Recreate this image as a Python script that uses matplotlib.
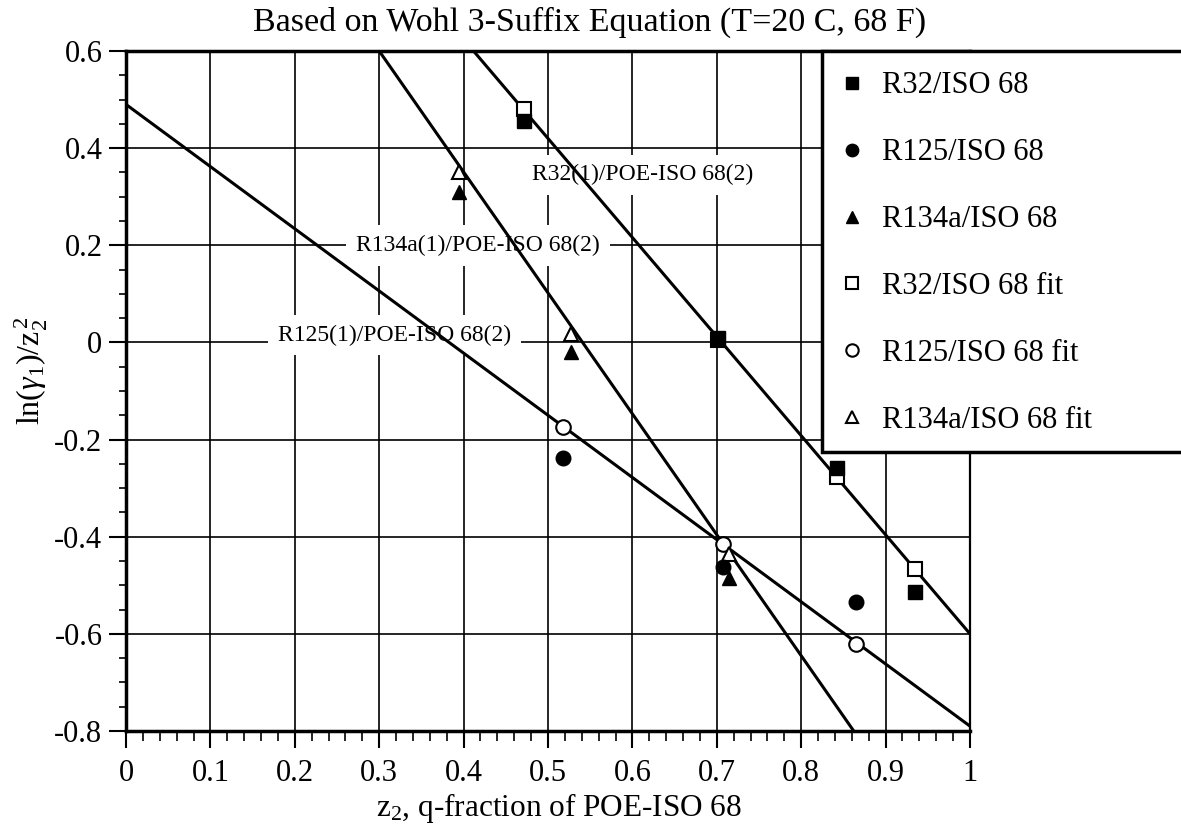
import matplotlib
matplotlib.use("Agg")
import matplotlib.pyplot as plt
from matplotlib.ticker import MultipleLocator, FuncFormatter
from matplotlib.patches import Rectangle

plt.rcParams['font.family'] = ['Liberation Serif', 'DejaVu Serif']
plt.rcParams['mathtext.fontset'] = 'custom'
plt.rcParams['mathtext.rm'] = 'Liberation Serif'
plt.rcParams['mathtext.it'] = 'Liberation Serif:italic'
plt.rcParams['axes.unicode_minus'] = False

# q-fraction of oil (z2) and ln(gamma1)/z2^2, experiment and Wohl fit
r32_z = [0.472, 0.702, 0.843, 0.935]
r32_exp = [0.455, 0.010, -0.258, -0.513]
r32_fit = [0.480, 0.005, -0.278, -0.466]

r125_z = [0.518, 0.707, 0.865]
r125_exp = [-0.237, -0.463, -0.535]
r125_fit = [-0.175, -0.414, -0.621]

r134a_z = [0.395, 0.527, 0.714]
r134a_exp = [0.310, -0.020, -0.484]
r134a_fit = [0.351, 0.017, -0.435]

# straight-line fits, end values at z2 = 0 and z2 = 1
line_z = [0.0, 1.0]
r32_line = [1.440, -0.600]
r125_line = [0.490, -0.790]
r134a_line = [1.347, -1.143]

line_labels = ["R32(1)/POE-ISO 68(2)", "R134a(1)/POE-ISO 68(2)", "R125(1)/POE-ISO 68(2)"]
label_pos = [(0.612, 0.345), (0.417, 0.200), (0.318, 0.015)]

W, H = 1181, 834
fig = plt.figure(figsize=(W / 100, H / 100), dpi=100)
ax = fig.add_axes([126 / W, 1 - 731 / H, (970 - 126) / W, (731 - 51) / H])

ax.set_xlim(0, 1)
ax.set_ylim(-0.8, 0.6)
ax.xaxis.set_major_locator(MultipleLocator(0.1))
ax.xaxis.set_minor_locator(MultipleLocator(0.02))
ax.yaxis.set_major_locator(MultipleLocator(0.2))
ax.yaxis.set_minor_locator(MultipleLocator(0.05))
fmt = FuncFormatter(lambda v, p: "%g" % round(v, 6))
ax.xaxis.set_major_formatter(fmt)
ax.yaxis.set_major_formatter(fmt)
ax.tick_params(which='major', direction='out', length=12, width=1.5,
               labelsize=22, colors='black')
ax.tick_params(axis='x', which='major', pad=8)
ax.tick_params(axis='y', which='major', pad=5)
ax.tick_params(axis='x', which='minor', direction='out', length=7, width=1.2)
ax.tick_params(axis='y', which='minor', direction='out', length=5, width=1.2)
ax.grid(True, which='major', color='black', lw=1.2)
ax.set_axisbelow(True)
for side in ('left', 'bottom', 'top'):
    ax.spines[side].set_linewidth(2.5)
ax.spines['right'].set_linewidth(1.6)

# fit lines
for ys in (r32_line, r125_line, r134a_line):
    ax.plot(line_z, ys, color='black', lw=2.2, zorder=3)

# line labels on white boxes
for txt, (x, y) in zip(line_labels, label_pos):
    ax.text(x, y, txt, ha='center', va='center', fontsize=17, zorder=2,
            bbox=dict(facecolor='white', edgecolor='none', pad=7))

ms = 10.5
ax.plot(r32_z, r32_exp, 's', color='black', ms=ms, zorder=5, label='R32/ISO 68')
ax.plot(r125_z, r125_exp, 'o', color='black', ms=ms, zorder=5, label='R125/ISO 68')
ax.plot(r134a_z, r134a_exp, '^', color='black', ms=ms, zorder=5, label='R134a/ISO 68')
ax.plot(r32_z, r32_fit, 's', mfc='white', mec='black', mew=1.5, ms=ms, zorder=4,
        label='R32/ISO 68 fit')
ax.plot(r125_z, r125_fit, 'o', mfc='white', mec='black', mew=1.5, ms=ms, zorder=4,
        label='R125/ISO 68 fit')
ax.plot(r134a_z, r134a_fit, '^', mfc='white', mec='black', mew=1.5, ms=ms, zorder=4,
        label='R134a/ISO 68 fit')

ax.set_xlabel(r'z$_2$, q-fraction of POE-ISO 68', fontsize=22.5)
ax.xaxis.set_label_coords(0.513, -0.088)
ax.set_ylabel(r'ln($\gamma_1$)/z$_2^{\,2}$', fontsize=23)
ax.yaxis.set_label_coords(-0.09, 0.53)

fig.text(590 / W, 1 - 22 / H, 'Based on Wohl 3-Suffix Equation (T=20 C, 68 F)',
         ha='center', va='center', fontsize=24.5)

# legend panel
frame = Rectangle((822 / W, 1 - 452 / H), 0.5, (452 - 51) / H,
                  transform=fig.transFigure, facecolor='white',
                  edgecolor='black', lw=2.5, zorder=6, clip_on=False)
fig.add_artist(frame)
handles, labels = ax.get_legend_handles_labels()
leg = fig.legend(handles, labels, loc='upper left',
                 bbox_to_anchor=(812 / W, 1 - 47 / H), frameon=False,
                 fontsize=22, handlelength=1.0, handletextpad=0.5,
                 labelspacing=1.24, borderpad=0.3, markerscale=0.85, numpoints=1)
leg.set_zorder(7)

fig.savefig('out.png', dpi=100)
